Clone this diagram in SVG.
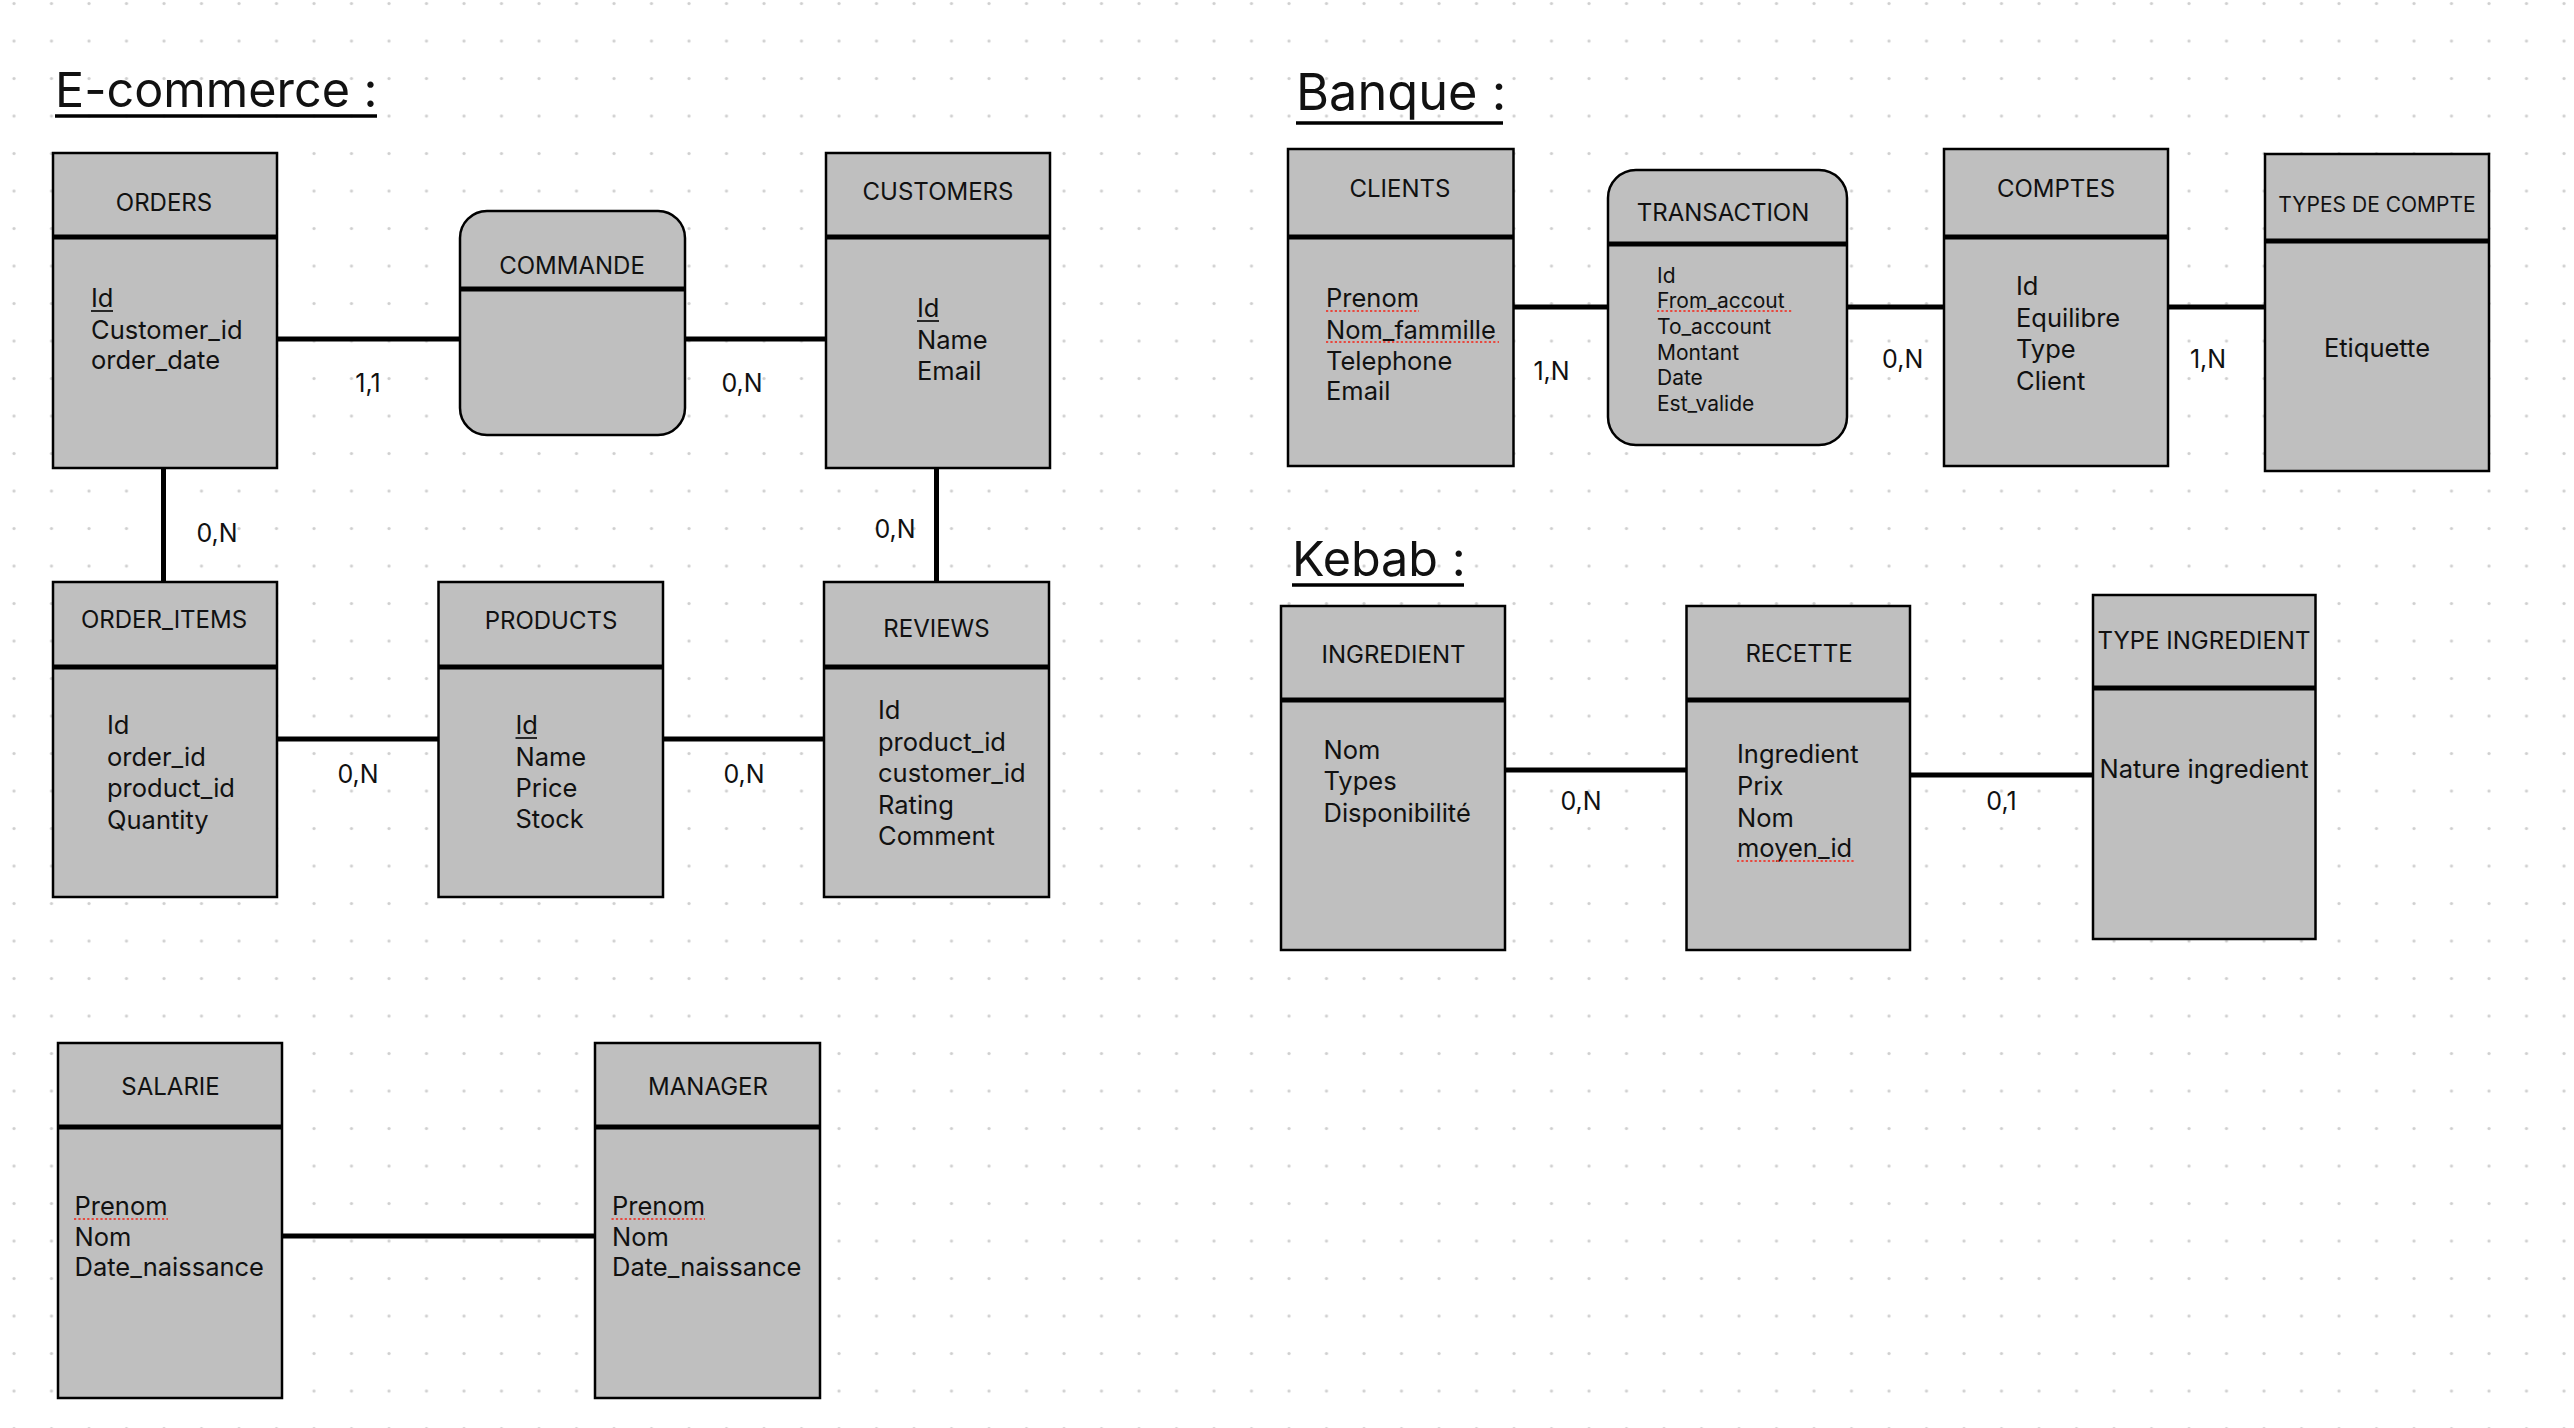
<svg xmlns="http://www.w3.org/2000/svg" width="2574" height="1428" viewBox="0 0 2574 1428">
<defs>
<pattern id="grid" x="0" y="0" width="37.5" height="37.5" patternUnits="userSpaceOnUse">
<circle cx="14" cy="3.5" r="1.6" fill="#cfcfcf"/>
</pattern>
<style>
.box{fill:#bfbfbf;stroke:#000;stroke-width:2.5}
.sep{stroke:#000;stroke-width:5}
.con{stroke:#000;stroke-width:5;fill:none}
.t{font-family:Inter,"Liberation Sans",sans-serif;fill:#111}
.title{font-size:24px;text-anchor:middle}
.attr{font-size:25.5px}
.small{font-size:21px}
.card{font-size:25px;text-anchor:middle}
.head{font-size:48.5px}
.ul{stroke:#000;stroke-width:1.6}
.hul{stroke:#000;stroke-width:3.5}
.sq{stroke:#e8483e;stroke-width:2.2;stroke-dasharray:2.2 2.2}
</style>
</defs>
<rect width="2574" height="1428" fill="#ffffff"/>
<rect width="2574" height="1428" fill="url(#grid)"/>

<g id="headings">
<text class="t head" x="55" y="107">E-commerce :</text>
<line class="hul" x1="55" y1="116" x2="377" y2="116"/>
<text class="t head" x="1296" y="110" style="font-size:50.5px">Banque :</text>
<line class="hul" x1="1296" y1="123" x2="1503" y2="123"/>
<text class="t head" x="1292" y="576">Kebab :</text>
<line class="hul" x1="1292" y1="585" x2="1464" y2="585"/>
</g>

<g id="connectors">
<line class="con" x1="277" y1="339" x2="460" y2="339"/>
<line class="con" x1="685" y1="339" x2="826" y2="339"/>
<line class="con" x1="163.5" y1="468" x2="163.5" y2="582"/>
<line class="con" x1="936.5" y1="468" x2="936.5" y2="582"/>
<line class="con" x1="277" y1="739" x2="438.5" y2="739"/>
<line class="con" x1="663" y1="739" x2="824" y2="739"/>
<line class="con" x1="282" y1="1236" x2="595" y2="1236"/>
<line class="con" x1="1513.5" y1="307" x2="1608" y2="307"/>
<line class="con" x1="1847" y1="307" x2="1944" y2="307"/>
<line class="con" x1="2168" y1="307" x2="2265" y2="307"/>
<line class="con" x1="1505" y1="770" x2="1686.5" y2="770"/>
<line class="con" x1="1910" y1="775" x2="2093" y2="775"/>
<text class="t card" x="368" y="392">1,1</text>
<text class="t card" x="742" y="392">0,N</text>
<text class="t card" x="217" y="542">0,N</text>
<text class="t card" x="895" y="538">0,N</text>
<text class="t card" x="358" y="783">0,N</text>
<text class="t card" x="744" y="783">0,N</text>
<text class="t card" x="1551.5" y="380">1,N</text>
<text class="t card" x="1902.7" y="368">0,N</text>
<text class="t card" x="2208" y="368">1,N</text>
<text class="t card" x="1581" y="810">0,N</text>
<text class="t card" x="2001.5" y="810">0,1</text>
</g>

<g id="orders">
<rect class="box" x="53" y="153" width="224" height="315"/>
<line class="sep" x1="53" y1="237" x2="277" y2="237"/>
<text class="t title" x="164" y="211">ORDERS</text>
<text class="t attr" x="91" y="307">Id</text>
<line class="ul" x1="91" y1="311" x2="113" y2="311"/>
<text class="t attr" x="91" y="338.5">Customer_id</text>
<text class="t attr" x="91" y="369">order_date</text>
</g>

<g id="commande">
<rect class="box" x="460" y="211" width="225" height="224" rx="27" ry="27"/>
<line class="sep" x1="460" y1="289" x2="685" y2="289"/>
<text class="t title" x="572" y="274">COMMANDE</text>
</g>

<g id="customers">
<rect class="box" x="826" y="153" width="224" height="315"/>
<line class="sep" x1="826" y1="237" x2="1050" y2="237"/>
<text class="t title" x="938" y="200">CUSTOMERS</text>
<text class="t attr" x="917" y="317">Id</text>
<line class="ul" x1="917" y1="321" x2="939" y2="321"/>
<text class="t attr" x="917" y="349">Name</text>
<text class="t attr" x="917" y="380">Email</text>
</g>

<g id="order_items">
<rect class="box" x="53" y="582" width="224" height="315"/>
<line class="sep" x1="53" y1="667" x2="277" y2="667"/>
<text class="t title" x="164" y="628">ORDER_ITEMS</text>
<text class="t attr" x="107" y="734">Id</text>
<text class="t attr" x="107" y="765.5">order_id</text>
<text class="t attr" x="107" y="797">product_id</text>
<text class="t attr" x="107" y="828.5">Quantity</text>
</g>

<g id="products">
<rect class="box" x="438.5" y="582" width="224.5" height="315"/>
<line class="sep" x1="438.5" y1="667" x2="663" y2="667"/>
<text class="t title" x="551" y="629">PRODUCTS</text>
<text class="t attr" x="515.5" y="734">Id</text>
<line class="ul" x1="515.5" y1="738" x2="537" y2="738"/>
<text class="t attr" x="515.5" y="766">Name</text>
<text class="t attr" x="515.5" y="797">Price</text>
<text class="t attr" x="515.5" y="828">Stock</text>
</g>

<g id="reviews">
<rect class="box" x="824" y="582" width="225" height="315"/>
<line class="sep" x1="824" y1="667" x2="1049" y2="667"/>
<text class="t title" x="936.5" y="637">REVIEWS</text>
<text class="t attr" x="878" y="719">Id</text>
<text class="t attr" x="878" y="750.5">product_id</text>
<text class="t attr" x="878" y="782">customer_id</text>
<text class="t attr" x="878" y="813.5">Rating</text>
<text class="t attr" x="878" y="845">Comment</text>
</g>

<g id="salarie">
<rect class="box" x="58" y="1043" width="224" height="355"/>
<line class="sep" x1="58" y1="1127" x2="282" y2="1127"/>
<text class="t title" x="170.5" y="1095">SALARIE</text>
<text class="t attr" x="74.5" y="1215">Prenom</text>
<line class="sq" x1="74" y1="1219" x2="168" y2="1219"/>
<text class="t attr" x="74.5" y="1245.5">Nom</text>
<text class="t attr" x="74.5" y="1276">Date_naissance</text>
</g>

<g id="manager">
<rect class="box" x="595" y="1043" width="225" height="355"/>
<line class="sep" x1="595" y1="1127" x2="820" y2="1127"/>
<text class="t title" x="708" y="1095">MANAGER</text>
<text class="t attr" x="612" y="1215">Prenom</text>
<line class="sq" x1="611.5" y1="1219" x2="705" y2="1219"/>
<text class="t attr" x="612" y="1245.5">Nom</text>
<text class="t attr" x="612" y="1276">Date_naissance</text>
</g>

<g id="clients">
<rect class="box" x="1288" y="149" width="225.5" height="317"/>
<line class="sep" x1="1288" y1="237" x2="1513.5" y2="237"/>
<text class="t title" x="1400" y="197">CLIENTS</text>
<text class="t attr" x="1326" y="307">Prenom</text>
<line class="sq" x1="1326" y1="311" x2="1419" y2="311"/>
<text class="t attr" x="1326" y="338.5">Nom_fammille</text>
<line class="sq" x1="1326" y1="342" x2="1499" y2="342"/>
<text class="t attr" x="1326" y="369.5">Telephone</text>
<text class="t attr" x="1326" y="400">Email</text>
</g>

<g id="transaction">
<rect class="box" x="1608" y="170" width="239" height="275" rx="28" ry="28"/>
<line class="sep" x1="1608" y1="244" x2="1847" y2="244"/>
<text class="t title" x="1723" y="221">TRANSACTION</text>
<text class="t small" x="1657" y="282.5">Id</text>
<text class="t small" x="1657" y="308">From_accout</text>
<line class="sq" x1="1657" y1="311" x2="1792" y2="311"/>
<text class="t small" x="1657" y="334">To_account</text>
<text class="t small" x="1657" y="359.5">Montant</text>
<text class="t small" x="1657" y="385">Date</text>
<text class="t small" x="1657" y="410.5">Est_valide</text>
</g>

<g id="comptes">
<rect class="box" x="1944" y="149" width="224" height="317"/>
<line class="sep" x1="1944" y1="237" x2="2168" y2="237"/>
<text class="t title" x="2056" y="197">COMPTES</text>
<text class="t attr" x="2016" y="295">Id</text>
<text class="t attr" x="2016" y="326.5">Equilibre</text>
<text class="t attr" x="2016" y="358">Type</text>
<text class="t attr" x="2016" y="389.5">Client</text>
</g>

<g id="types_de_compte">
<rect class="box" x="2265" y="154" width="224" height="317"/>
<line class="sep" x1="2265" y1="241" x2="2489" y2="241"/>
<text class="t title small" x="2377" y="212">TYPES DE COMPTE</text>
<text class="t attr" x="2377" y="357" text-anchor="middle">Etiquette</text>
</g>

<g id="ingredient">
<rect class="box" x="1281" y="606" width="224" height="344"/>
<line class="sep" x1="1281" y1="700" x2="1505" y2="700"/>
<text class="t title" x="1393.5" y="663">INGREDIENT</text>
<text class="t attr" x="1323.5" y="759">Nom</text>
<text class="t attr" x="1323.5" y="790">Types</text>
<text class="t attr" x="1323.5" y="821.5">Disponibilité</text>
</g>

<g id="recette">
<rect class="box" x="1686.5" y="606" width="223.5" height="344"/>
<line class="sep" x1="1686.5" y1="700" x2="1910" y2="700"/>
<text class="t title" x="1799" y="662">RECETTE</text>
<text class="t attr" x="1737" y="763">Ingredient</text>
<text class="t attr" x="1737" y="795">Prix</text>
<text class="t attr" x="1737" y="826.5">Nom</text>
<text class="t attr" x="1737" y="857">moyen_id</text>
<line class="sq" x1="1737" y1="861" x2="1854" y2="861"/>
</g>

<g id="type_ingredient">
<rect class="box" x="2093" y="595" width="222.5" height="344"/>
<line class="sep" x1="2093" y1="688" x2="2315.5" y2="688"/>
<text class="t title" x="2204" y="649">TYPE INGREDIENT</text>
<text class="t attr" x="2204" y="778" text-anchor="middle">Nature ingredient</text>
</g>
</svg>
